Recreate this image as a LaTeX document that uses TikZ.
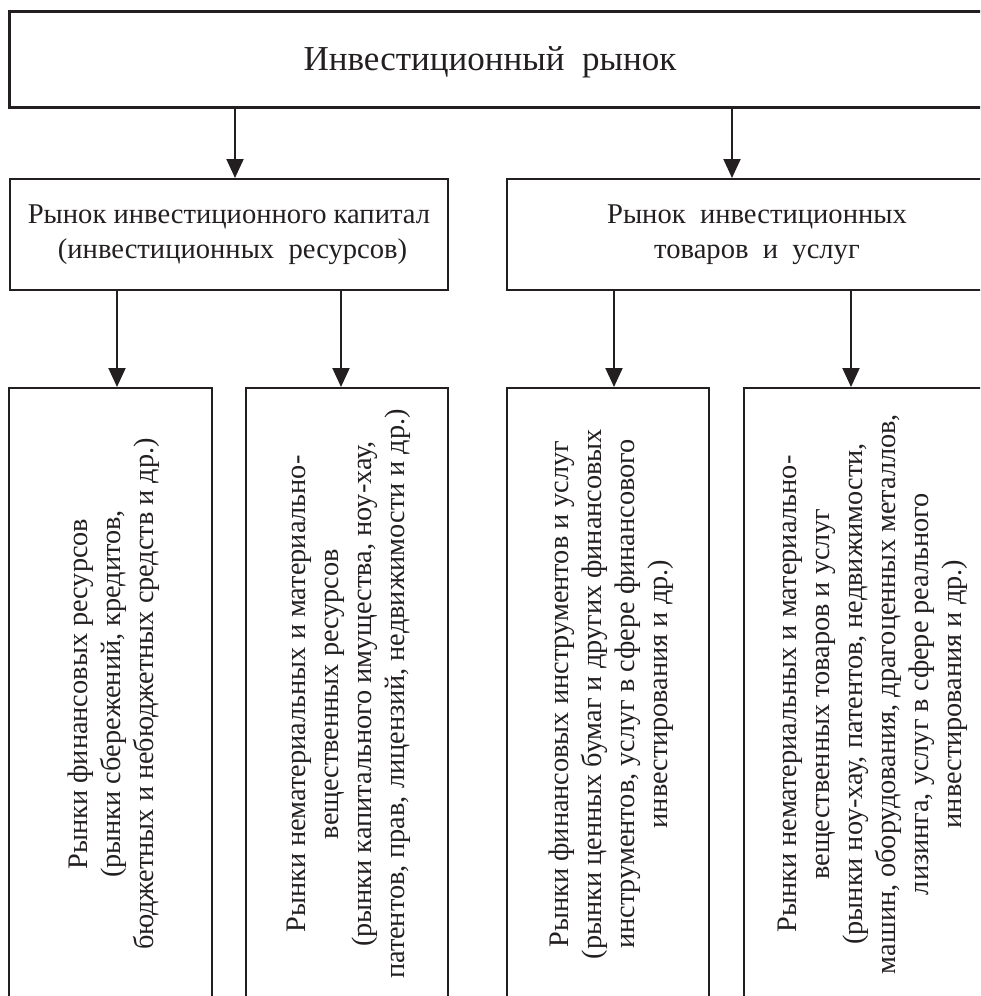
\documentclass[tikz,border=0pt]{standalone}
\usepackage{fontspec}
\setmainfont{Liberation Serif}
\usetikzlibrary{arrows.meta}
\definecolor{ink}{HTML}{231F20}
\begin{document}
\begin{tikzpicture}[x=1pt,y=-1pt,
  box/.style={draw=ink,line width=2pt,rectangle,inner sep=0pt,text=ink},
  topbox/.style={box,line width=3pt},
  midtext/.style={font=\fontsize{28.6}{35}\selectfont,align=center},
  vtext/.style={font=\fontsize{28.3}{33}\selectfont,align=center},
  arr/.style={draw=ink,line width=2pt,-{Triangle[width=17pt,length=19pt]}}]
\useasboundingbox (0,0) rectangle (980,996);
\clip (0,0) rectangle (980,996);
% top box
\node[topbox,minimum width=993pt,minimum height=96pt] (top) at (505.5,59) {};
\node[font=\fontsize{35}{40}\selectfont,text=ink] (toptext) at (490,62) {Инвестиционный\ \ рынок};
% second level
\node[box,minimum width=438pt,minimum height=111pt,midtext] (A) at (229,234.5)
  {Рынок инвестиционного капитал\\ \ (инвестиционных\ \ ресурсов)};
\node[box,minimum width=500pt,minimum height=111pt,midtext] (B) at (757,234.5)
  {Рынок\ \ инвестиционных\\товаров\ \ и\ \ услуг};
% third level
\node[box,minimum width=203pt,minimum height=612pt] (C1) at (110.5,694) {};
\node[box,minimum width=202pt,minimum height=612pt] (C2) at (347,694) {};
\node[box,minimum width=202pt,minimum height=612pt] (C3) at (608,694) {};
\node[box,minimum width=258pt,minimum height=612pt] (C4) at (873,694) {};
\node[vtext,rotate=90,text=ink] (T1) at ([xshift=3pt]C1.center)
  {Рынки финансовых ресурсов\\(рынки сбережений, кредитов,\\бюджетных и небюджетных средств и др.)};
\node[vtext,rotate=90,text=ink] (T2) at ([xshift=2pt]C2.center)
  {Рынки нематериальных и материально-\\вещественных ресурсов\\(рынки капитального имущества, ноу-хау,\\патентов, прав, лицензий, недвижимости и др.)};
\node[vtext,rotate=90,text=ink] (T3) at ([xshift=3pt]C3.center)
  {Рынки финансовых инструментов и услуг\\(рынки ценных бумаг и других финансовых\\инструментов, услуг в сфере финансового\\инвестирования и др.)};
\node[vtext,rotate=90,text=ink] (T4) at (C4.center)
  {Рынки нематериальных и материально-\\вещественных товаров и услуг\\(рынки ноу-хау, патентов, недвижимости,\\машин, оборудования, драгоценных металлов,\\лизинга, услуг в сфере реального\\инвестирования и др.)};
% arrows
\coordinate (xa) at (235,0);
\coordinate (xb) at (732,0);
\coordinate (x1) at (117,0);
\coordinate (x2) at (341,0);
\coordinate (x3) at (614,0);
\coordinate (x4) at (851,0);
\draw[arr] (top.south -| xa) -- (A.north -| xa);
\draw[arr] (top.south -| xb) -- (B.north -| xb);
\draw[arr] (A.south -| x1) -- (C1.north -| x1);
\draw[arr] (A.south -| x2) -- (C2.north -| x2);
\draw[arr] (B.south -| x3) -- (C3.north -| x3);
\draw[arr] (B.south -| x4) -- (C4.north -| x4);
\end{tikzpicture}
\end{document}
